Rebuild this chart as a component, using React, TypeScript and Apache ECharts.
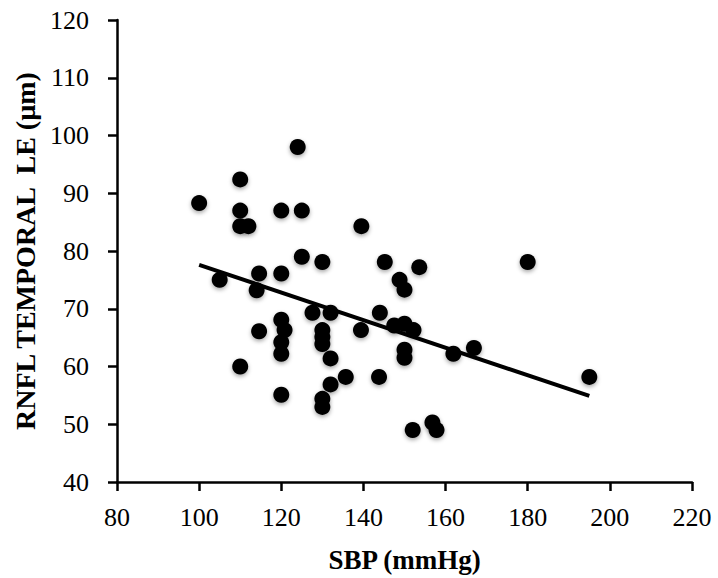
import React, { useEffect, useRef } from "react";
import * as echarts from "echarts";

const sbp = [
  100, 105, 110, 110, 110, 112, 110, 114, 114.6, 114.6,
  120, 120, 120, 120.8, 120, 120, 120, 124, 125, 125,
  127.6, 130, 130, 130, 130, 130, 130, 132, 132, 132,
  135.7, 139.5, 139.4, 144, 143.8, 145.2, 147.5, 148.8, 150, 150,
  150, 150, 152.2, 152, 153.6, 156.8, 157.8, 161.9, 166.9, 180,
  195,
];
const rnfl = [
  88.3, 75.0, 92.4, 87.0, 84.3, 84.3, 60.0, 73.2, 76.1, 66.1,
  87.0, 76.1, 68.1, 66.3, 64.2, 62.2, 55.1, 98.0, 87.0, 79.0,
  69.3, 78.1, 66.3, 65.1, 63.9, 54.4, 53.0, 69.3, 61.4, 56.9,
  58.2, 84.3, 66.3, 69.3, 58.2, 78.1, 67.1, 75.0, 73.3, 67.4,
  62.9, 61.5, 66.3, 49.0, 77.2, 50.3, 49.0, 62.2, 63.2, 78.1,
  58.2,
];
const trendX = [100, 195];
const trendY = [77.6, 54.9];

const xTitle = "SBP (mmHg)";
const yTitle = "RNFL TEMPORAL  LE (µm)";

export default function App() {
  const ref = useRef<HTMLDivElement>(null);
  useEffect(() => {
    if (!ref.current) return;
    const chart = echarts.init(ref.current, undefined, { renderer: "svg" });
    const font = "'Liberation Serif', 'Times New Roman', serif";
    const axisCommon = {
      axisLine: { show: true, lineStyle: { color: "#000", width: 2.5 } },
      axisTick: { show: true, inside: false, length: 9, lineStyle: { color: "#000", width: 2.5 } },
      splitLine: { show: false },
    };
    chart.setOption({
      animation: false,
      backgroundColor: "#fff",
      grid: { left: 117, right: 26, top: 20, bottom: 96, containLabel: false },
      xAxis: {
        type: "value",
        min: 80,
        max: 220,
        interval: 20,
        ...axisCommon,
        axisLabel: { color: "#000", fontFamily: font, fontSize: 26, margin: 22 },
        name: xTitle,
        nameLocation: "middle",
        nameGap: 64,
        nameTextStyle: { color: "#000", fontFamily: font, fontSize: 27, fontWeight: "bold" },
      },
      yAxis: {
        type: "value",
        min: 40,
        max: 120,
        interval: 10,
        ...axisCommon,
        axisLabel: { color: "#000", fontFamily: font, fontSize: 26, margin: 28 },
        name: yTitle,
        nameLocation: "middle",
        nameGap: 78,
        nameTextStyle: { color: "#000", fontFamily: font, fontSize: 28, fontWeight: "bold" },
      },
      series: [
        {
          type: "scatter",
          data: sbp.map((x, i) => [x, rnfl[i]]),
          symbol: "circle",
          symbolSize: 16,
          itemStyle: {
            color: "#000",
            opacity: 1,
            shadowBlur: 4,
            shadowColor: "rgba(0,0,0,0.35)",
            shadowOffsetY: 2,
          },
          z: 3,
        },
        {
          type: "line",
          data: trendX.map((x, i) => [x, trendY[i]]),
          symbol: "none",
          lineStyle: { color: "#000", width: 4 },
          z: 2,
        },
      ],
    });
    return () => chart.dispose();
  }, []);
  return (
    <div
      ref={ref}
      style={{ position: "absolute", left: 0, top: 0, width: 718, height: 578 }}
    />
  );
}
